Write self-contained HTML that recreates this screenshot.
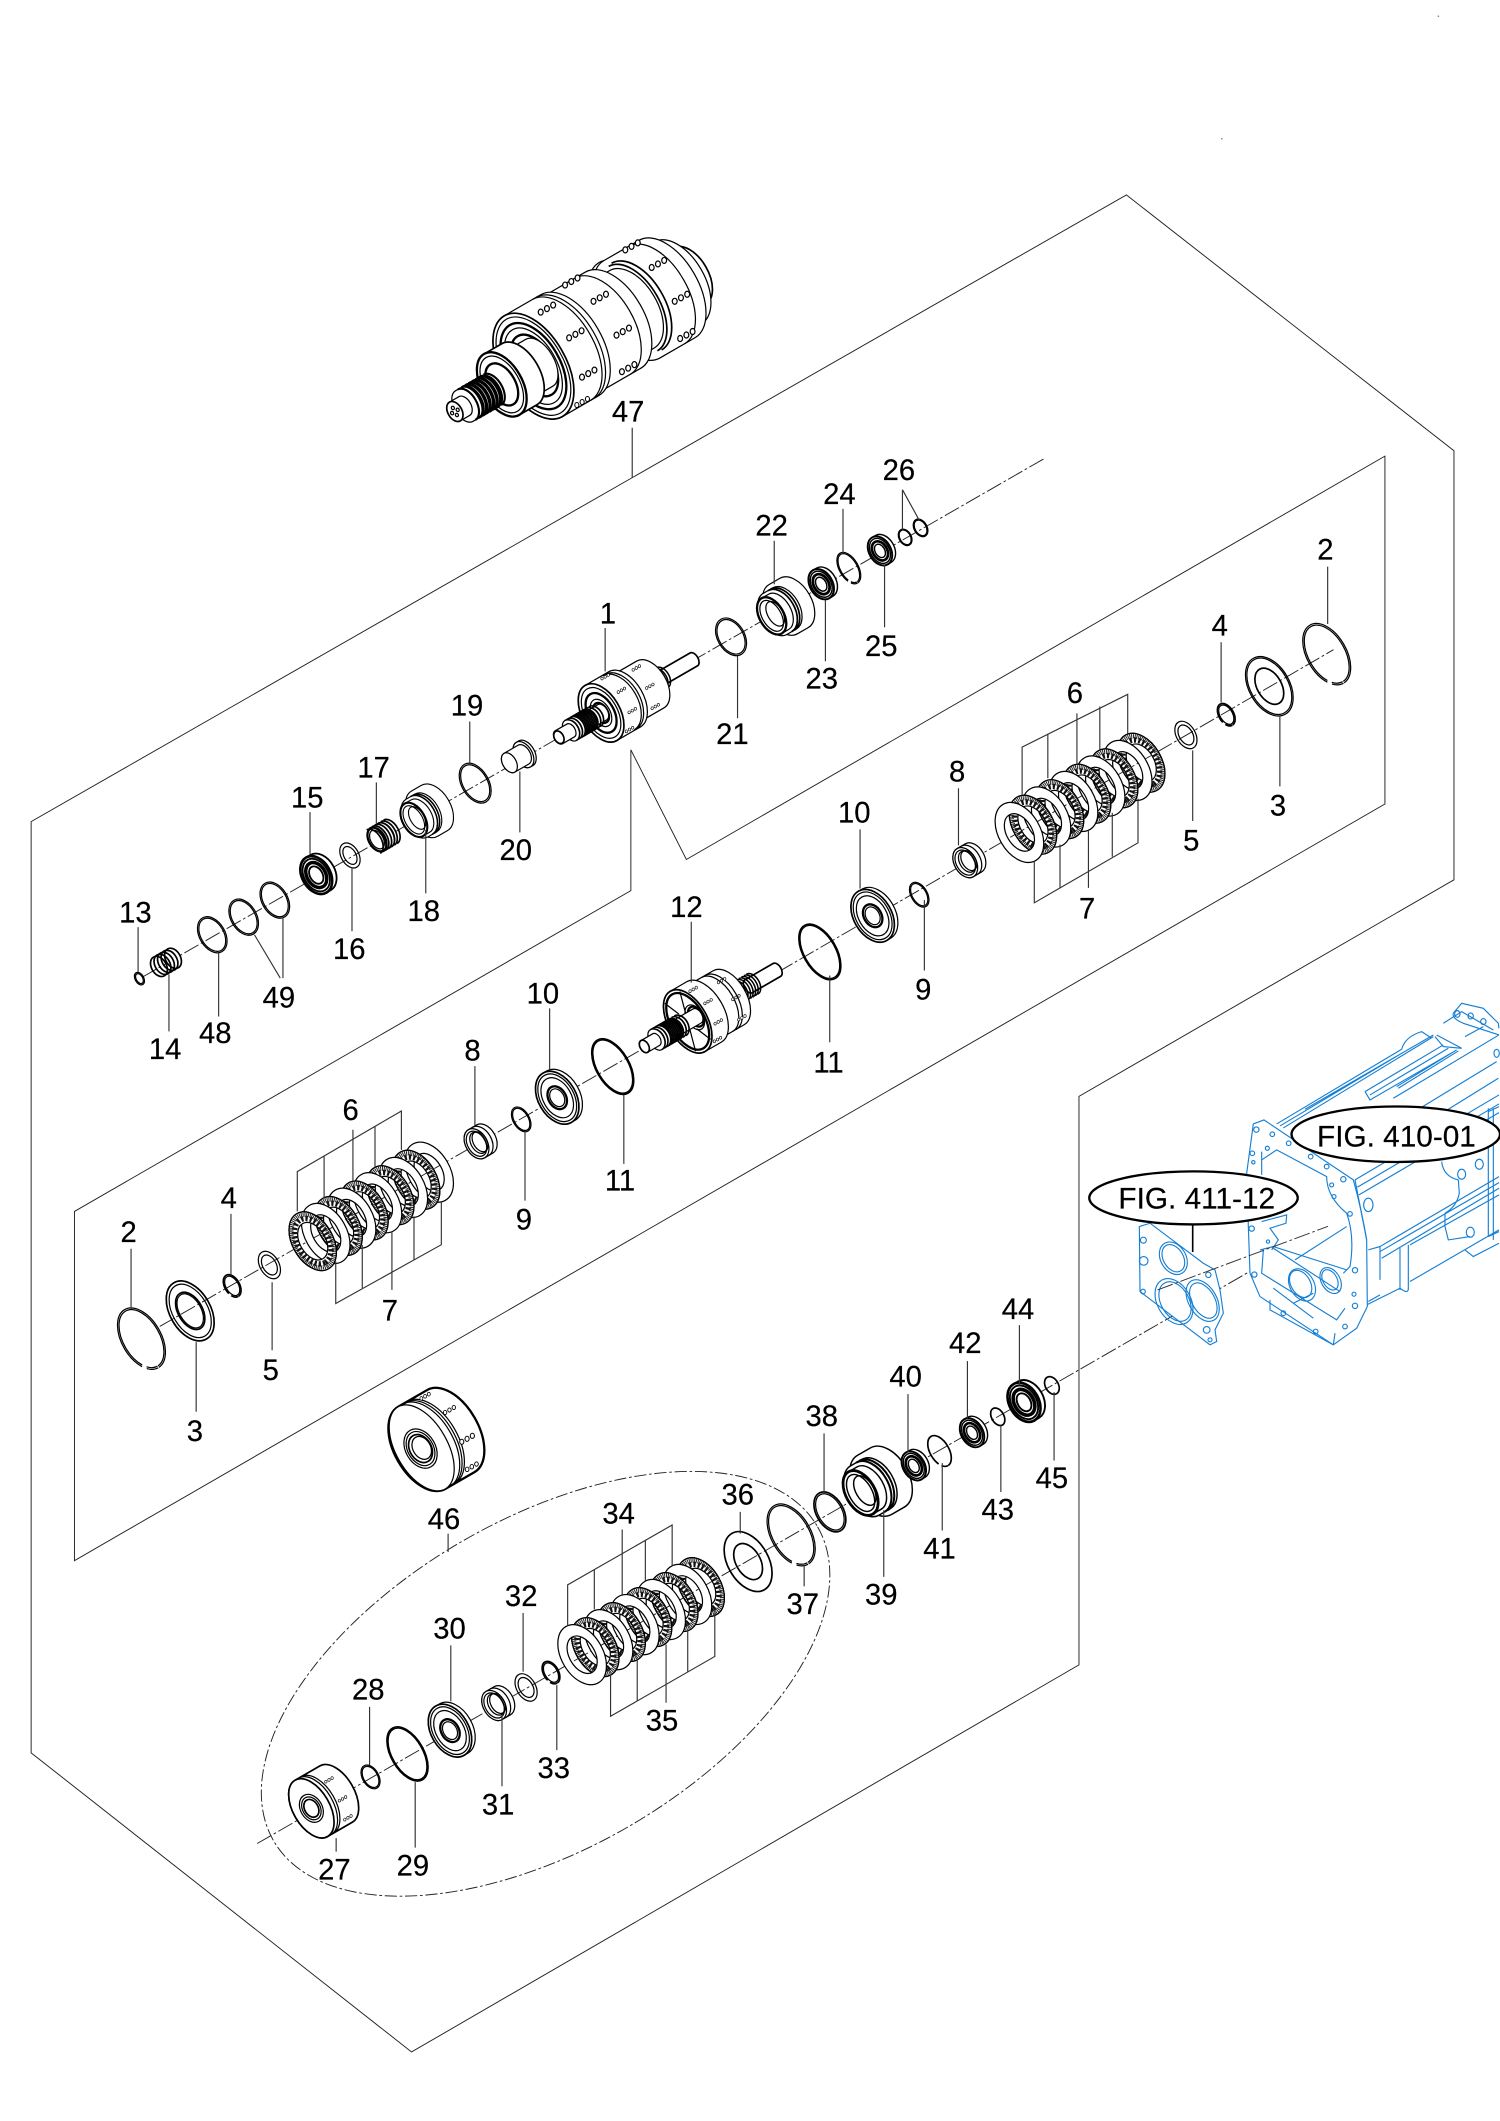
<!DOCTYPE html>
<html><head><meta charset="utf-8"><style>
html,body{margin:0;padding:0;background:#fff}
svg{display:block}
text{font-family:"Liberation Sans",sans-serif;font-size:21.6px;text-anchor:middle;fill:#000;stroke:#000;stroke-width:.15}
.box{fill:none;stroke:#222;stroke-width:.7}
.ch{fill:none;stroke:#222;stroke-width:.7;stroke-dasharray:12 2 2 2}
.ld{fill:none;stroke:#333;stroke-width:.85}
.p ellipse,.p path{stroke:#000;stroke-width:.9;fill:none}
.p .w{fill:#fff}
.p .k{stroke-width:1.7}
.p .t{stroke-width:1.25}
.bl *{fill:none;stroke:#157fd4;stroke-width:3.4}
.bl .w{fill:#fff}
</style></head><body>
<svg xmlns="http://www.w3.org/2000/svg" width="1500" height="2121" viewBox="0 0 1108 1567" preserveAspectRatio="none">
<defs><g class="p">
<g id="F" transform="rotate(60)">
<path class="w" fill-rule="evenodd" d="M-23.5,0A23.5,15 0 1 1 23.5,0A23.5,15 0 1 1 -23.5,0ZM-15,0A15,9.5 0 1 0 15,0A15,9.5 0 1 0 -15,0Z"/>
<ellipse rx="18.2" ry="11.6" style="stroke:#111;stroke-width:4;stroke-dasharray:1.7 1.5"/>
<ellipse rx="21.2" ry="13.5" style="stroke:#222;stroke-width:3.2;stroke-dasharray:.7 .6"/>
<ellipse rx="23.5" ry="15"/>
</g>
<g id="P" transform="rotate(60)">
<path class="w" fill-rule="evenodd" d="M-24,0A24,15.4 0 1 1 24,0A24,15.4 0 1 1 -24,0ZM-15,0A15,9.5 0 1 0 15,0A15,9.5 0 1 0 -15,0Z"/>
</g>
<g id="B">
<path class="w" d="M-10,0L-10,-2.5A10,7 0 0 1 10,-2.5L10,0A10,7 0 0 1 -10,0Z"/>
<ellipse class="t w" rx="10" ry="7"/><ellipse rx="8.6" ry="6"/><ellipse class="k" rx="6.6" ry="4.6"/><ellipse rx="4.6" ry="3.1"/>
</g>
<g id="S">
<path class="w" d="M-12,0L-12,-7A12,8 0 0 1 12,-7L12,0A12,8 0 0 1 -12,0Z"/>
<path d="M-12,-3.5A12,8 0 0 1 12,-3.5"/>
<ellipse class="w" rx="12" ry="8"/><ellipse rx="10" ry="6.6"/><ellipse rx="8.5" ry="5.4" cy="-1.5"/><ellipse rx="8" ry="5" cy="-3"/>
</g>
<g id="H">
<path class="w" d="M-21,-10L-21,-19A21,13 0 0 1 21,-19L21,-10A21,13 0 0 1 -21,-10Z"/>
<path class="w" d="M-17.5,-3L-17.5,-11A17.5,11 0 0 1 17.5,-11L17.5,-3A17.5,11 0 0 1 -17.5,-3Z"/>
<path class="t" d="M-17.5,-7A17.5,11 0 0 1 17.5,-7M-17.5,-9A17.5,11 0 0 1 17.5,-9"/>
<path class="w" d="M-15,0L-15,-6A15,9 0 0 1 15,-6L15,0A15,9 0 0 1 -15,0Z"/>
<ellipse class="k w" rx="15" ry="9"/><ellipse rx="12.5" ry="7"/><ellipse rx="10" ry="5.5" cy="-3"/>
</g>
<g id="h3"><ellipse class="w" cx="-4.6" cy="2.6" rx="1.8" ry="2.2"/><ellipse class="w" rx="1.8" ry="2.2"/><ellipse class="w" cx="4.6" cy="-2.6" rx="1.8" ry="2.2"/></g>
<path id="th" class="t" d="M-10,0a10,6 0 0 1 20,0m-20,-2.4a10,6 0 0 1 20,0m-20,-2.4a10,6 0 0 1 20,0m-20,-2.4a10,6 0 0 1 20,0m-20,-2.4a10,6 0 0 1 20,0m-20,-2.4a10,6 0 0 1 20,0m-20,-2.4a10,6 0 0 1 20,0"/>
</g></defs>

<!-- frames -->
<path class="box" d="M832,144L1074,333L1074,650L797,810L797,1230L304,1516L23,1295L23,607Z"/>
<path class="box" d="M1023,337L507,635L466,554L466,658L55,895L55,1153L1023,594Z"/>

<!-- axes -->
<path class="ch" d="M105,722L771,339"/>
<path class="ch" d="M118,980L478,773"/>
<path class="ch" d="M575,718L985,480"/>
<path class="ch" d="M190,1362L981,906"/>

<!-- BLUE housing -->
<g class="bl" transform="translate(783,724) scale(.2462)">
<path d="M650,432L1025,208M660,438L1025,220M670,444L1120,170M735,388L1120,165M1025,208Q1035,170 1085,155L1115,175"/>
<path d="M915,335L1150,195M915,335L930,360L1190,210M930,345L1165,205M1010,320L1190,210M1015,325L1195,213M1080,385L1310,245M1165,388L1315,295M1000,355L1317,165M885,600L1317,345M892,622L1317,372M897,645L1317,398"/>
<path d="M1125,170L1150,200L1205,205L1130,165M1150,130L1205,95L1300,150M1215,170L1270,140M1180,100L1205,70L1270,85L1315,130L1317,145M1180,100Q1175,115 1210,130L1317,165"/>
<ellipse cx="1192" cy="102" rx="8" ry="10"/><ellipse cx="1232" cy="108" rx="8" ry="9"/><ellipse cx="1270" cy="125" rx="8" ry="9"/><ellipse cx="1310" cy="220" rx="8" ry="12"/>
<path d="M960,800L1317,590M960,815L1317,608M965,835L1317,625M1050,795L1317,645M1050,905L1317,750M1020,805L1020,930M1045,795L1045,930M920,975L1020,925Q1045,945 1045,925M925,810L960,800L960,900M925,965L960,945"/>
<path d="M1285,385L1285,770M1300,385L1300,780M1317,380L1285,395M1215,810L1240,830L1317,790M1285,770L1317,755"/>
<path d="M1145,545Q1150,590 1195,600L1198,640Q1190,680 1155,700M1155,740L1165,780L1230,770M1155,700L1155,740"/>
<ellipse cx="1205" cy="583" rx="12" ry="15"/><ellipse cx="1258" cy="553" rx="12" ry="15"/><ellipse cx="1231" cy="757" rx="12" ry="15"/><ellipse cx="925" cy="675" rx="14" ry="20"/>
<path class="w" d="M580,432L612,420L880,600Q905,690 920,780L922,980L890,1045L820,1095L600,950L570,880L565,740L560,580Z"/>
<path d="M885,600L920,780M605,515L605,585M605,540L650,510L800,590Q800,650 860,700Q885,770 870,860L850,880M610,810L605,880L830,1020L855,985M640,805L840,935M600,810L640,800L860,870M705,840L860,740M640,925L760,1015M630,960L630,990L820,1095M700,970L760,940M825,1060L820,1095"/>
<path d="M605,725L680,705L678,730L630,745L655,780L635,810"/>
<ellipse cx="726" cy="915" rx="52" ry="36" transform="rotate(60 726 915)"/><ellipse cx="722" cy="912" rx="44" ry="29" transform="rotate(60 722 912)"/>
<ellipse cx="812" cy="902" rx="42" ry="28" transform="rotate(60 812 902)"/><ellipse cx="810" cy="900" rx="33" ry="21" transform="rotate(60 810 900)"/>
<circle cx="589" cy="449" r="8"/><circle cx="637" cy="463" r="7"/><circle cx="686" cy="490" r="7"/><circle cx="752" cy="530" r="7"/><circle cx="800" cy="560" r="7"/><circle cx="850" cy="598" r="8"/><circle cx="870" cy="702" r="7"/><circle cx="885" cy="871" r="8"/><circle cx="882" cy="943" r="6"/><circle cx="885" cy="978" r="8"/><circle cx="855" cy="1040" r="7"/><circle cx="767" cy="1055" r="7"/><circle cx="670" cy="1000" r="7"/><circle cx="583" cy="884" r="8"/><circle cx="577" cy="520" r="7"/><circle cx="580" cy="547" r="5"/><circle cx="575" cy="746" r="8"/><circle cx="622" cy="505" r="6"/><circle cx="815" cy="615" r="6"/><circle cx="822" cy="650" r="6"/><circle cx="624" cy="785" r="5"/>
<path class="w" d="M238,740L270,730L430,850L465,870L480,930L490,1000L465,1050L470,1085L450,1095L240,935Z"/>
<ellipse cx="340" cy="835" rx="52" ry="38" transform="rotate(60 340 835)"/><ellipse cx="340" cy="835" rx="44" ry="30" transform="rotate(60 340 835)"/>
<ellipse cx="342" cy="965" rx="74" ry="50" transform="rotate(60 342 965)"/><ellipse cx="345" cy="965" rx="64" ry="42" transform="rotate(60 345 965)"/>
<ellipse cx="428" cy="962" rx="68" ry="42" transform="rotate(60 428 962)"/><ellipse cx="430" cy="962" rx="58" ry="34" transform="rotate(60 430 962)"/>
<circle cx="250" cy="781" r="9"/><circle cx="251" cy="843" r="13"/><circle cx="249" cy="935" r="7"/><circle cx="445" cy="885" r="8"/><circle cx="440" cy="1050" r="10"/><circle cx="450" cy="1080" r="6"/>
</g>
<path class="ch" d="M855,953L981,906" style="stroke:#333"/>
<ellipse cx="1031" cy="838" rx="77" ry="20.5" fill="#fff" stroke="#000" stroke-width="1.7"/>
<ellipse cx="881.6" cy="885" rx="77" ry="19.6" fill="#fff" stroke="#000" stroke-width="1.7"/>
<path d="M881,905V925" stroke="#000" stroke-width="1.2"/>
<text x="1031.5" y="847" style="font-size:22px">FIG. 410-01</text>
<text x="884" y="893" style="font-size:22px">FIG. 411-12</text>

<!-- dashed group ellipse -->
<ellipse cx="403" cy="1244" rx="232" ry="122" transform="rotate(-30 403 1244)" fill="none" stroke="#222" stroke-width=".7" stroke-dasharray="9 2 2 2"/>

<!-- 47 assembly -->
<g class="p">
<g transform="translate(336,304) rotate(60)">
<path class="w t" d="M-24,-190L-24,-200A24,14 0 0 1 24,-200L24,-190A24,14 0 0 1 -24,-190Z"/>
<path class="w" d="M-35,-181L-35,-190A35,20 0 0 1 35,-190L35,-181A35,20 0 0 1 -35,-181Z"/>
<path class="w" d="M-41.5,-151L-41.5,-181A41.5,23 0 0 1 41.5,-181L41.5,-151A41.5,23 0 0 1 -41.5,-151Z"/>
<path d="M-41.5,-172A41.5,23 0 0 1 41.5,-172"/>
<path class="w" d="M-33,-135L-33,-151A33,19 0 0 1 33,-151L33,-135A33,19 0 0 1 -33,-135Z"/>
<path d="M-41.5,-151A41.5,23 0 0 0 -33,-133"/>
<path class="t" d="M-36,-152A36,20 0 0 1 36,-152M-37,-155A37,21 0 0 1 37,-155"/>
<path class="w" d="M-41,-98L-41,-135A41,23 0 0 1 41,-135L41,-98A41,23 0 0 1 -41,-98Z"/>
<path d="M-41,-126A41,23 0 0 1 41,-126"/>
<path class="w" d="M-43,-67L-43,-98A43,24 0 0 1 43,-98L43,-67A43,24 0 0 1 -43,-67Z"/>
<path d="M-43,-94A43,24 0 0 1 43,-94M-43,-91A43,24 0 0 1 43,-91"/>
<ellipse class="w t" cy="-67" rx="43" ry="24"/><ellipse cy="-67" rx="40" ry="22"/><ellipse class="k" cy="-67" rx="35" ry="19.5"/><ellipse cy="-67" rx="31" ry="17"/><ellipse class="k" cy="-68" rx="25" ry="14"/>
<path class="w" d="M-20,-55L-20,-72A20,11 0 0 1 20,-72L20,-55A20,11 0 0 1 -20,-55Z"/>
<path class="w t" d="M-26,-40L-26,-55A26,15 0 0 1 26,-55L26,-40A26,15 0 0 1 -26,-40Z"/>
<ellipse class="w k" cy="-40" rx="26" ry="15"/><ellipse cy="-40" rx="23" ry="13"/><ellipse class="k" cy="-40" rx="17" ry="10"/>
<path class="w" d="M-13,-8L-13,-30A13,7.5 0 0 1 13,-30L13,-8A13,7.5 0 0 1 -13,-8Z"/>
<use href="#th" transform="translate(0,-10) scale(1.3,1.25)"/>
<use href="#th" transform="translate(0,-14) scale(1.3,1.25)"/>
<path class="w" d="M-8,0L-8,-8A8,5 0 0 1 8,-8L8,0A8,5 0 0 1 -8,0Z"/>
<ellipse rx="8" ry="5.2" class="w t"/>
<ellipse cx="-3" rx="1.3" ry="1.1"/><ellipse cx="3" rx="1.3" ry="1.1"/><ellipse cy="-2.4" rx="1.3" ry="1.1"/><ellipse cy="2.4" rx="1.3" ry="1.1"/>
</g>
<use href="#h3" x="404" y="228"/><use href="#h3" x="425" y="247"/><use href="#h3" x="434.5" y="276"/>
<use href="#h3" x="422" y="208"/><use href="#h3" x="443" y="220"/><use href="#h3" x="460" y="245"/><use href="#h3" x="464" y="272"/>
<use href="#h3" x="466.5" y="182"/><use href="#h3" x="486" y="195"/><use href="#h3" x="503" y="220"/><use href="#h3" x="507" y="247.5"/>
<use href="#h3" transform="translate(430,297) scale(.85)"/>
</g>

<g class="p">
<!-- upper axis parts -->
<g transform="translate(103,723) rotate(60)"><ellipse rx="5" ry="3.2"/><ellipse rx="4" ry="2.4"/></g>
<g transform="translate(122.6,711) rotate(60)"><ellipse class="w t" cy="-6" rx="8" ry="5.5"/><ellipse class="t" cy="-3" rx="8" ry="5.5"/><ellipse class="t" cy="0" rx="8" ry="5.5"/><ellipse class="t" cy="3" rx="8" ry="5.5"/><ellipse class="t" cy="6" rx="8" ry="5.5"/></g>
<g transform="translate(156.8,690.6) rotate(60)"><ellipse rx="14.4" ry="9.5"/><ellipse rx="13.3" ry="8.5"/></g>
<g transform="translate(180,677.6) rotate(60)"><ellipse rx="14.4" ry="9.5"/><ellipse rx="13.3" ry="8.5"/></g>
<g transform="translate(203,665) rotate(60)"><ellipse rx="14.4" ry="9.5"/><ellipse rx="13.3" ry="8.5"/></g>
<g transform="translate(233.6,646.5) rotate(60) scale(1.5)"><use href="#B"/></g>
<g transform="translate(258.5,632) rotate(60)"><ellipse rx="10" ry="6.5"/><ellipse rx="7.2" ry="4.4"/></g>
<g transform="translate(281.5,618.5) rotate(60)"><path class="w" d="M-10,3L-10,-3A10,6.5 0 0 1 10,-3L10,3A10,6.5 0 0 1 -10,3Z"/><use href="#th" transform="translate(0,6.5) scale(1,1)"/><ellipse class="k" cy="3.5" rx="9.5" ry="6"/><ellipse cy="3.5" rx="7.5" ry="4.6"/></g>
<g transform="translate(305.7,605.7) rotate(60) scale(.92)"><use href="#H"/></g>
<g transform="translate(351,578.6) rotate(60)"><ellipse rx="16" ry="10"/><ellipse rx="14.8" ry="9"/></g>
<g transform="translate(380.6,561) rotate(60)">
<path class="w" d="M-10.5,-7L-10.5,-9A10.5,6.5 0 0 1 10.5,-9L10.5,-7A10.5,6.5 0 0 1 -10.5,-7Z"/>
<ellipse class="w" cy="-7" rx="10.5" ry="6.5"/>
<path class="w" d="M-8,5L-8,-7A8,5 0 0 1 8,-7L8,5A8,5 0 0 1 -8,5Z"/><ellipse class="w" cy="5" rx="8" ry="5"/>
</g>
<!-- part 1 -->
<g transform="translate(444,526.7) rotate(60)">
<path class="w t" d="M-5.5,-50L-5.5,-79A5.5,3.3 0 0 1 5.5,-79L5.5,-50A5.5,3.3 0 0 1 -5.5,-50Z"/>
<use href="#th" transform="translate(0,-39) scale(.85,.9)"/>
<path class="w" d="M-20,-20L-20,-42A20,12 0 0 1 20,-42L20,-20A20,12 0 0 1 -20,-20Z"/>
<path class="w" d="M-23.5,0L-23.5,-20A23.5,14 0 0 1 23.5,-20L23.5,0A23.5,14 0 0 1 -23.5,0Z"/>
<path d="M-23,-17A23,14 0 0 1 23,-17M-23,-15A23,14 0 0 1 23,-15"/>
<ellipse class="w t" rx="23.5" ry="14"/><ellipse rx="20.5" ry="12"/><ellipse class="k" rx="16" ry="9.5"/><ellipse rx="11" ry="6.6"/><ellipse class="k" rx="8" ry="5"/>
<path class="w" d="M-6.5,15L-6.5,-1A6.5,4 0 0 1 6.5,-1L6.5,15A6.5,4 0 0 1 -6.5,15Z"/>
<path class="w" d="M-8.5,26L-8.5,10A8.5,5 0 0 1 8.5,10L8.5,26A8.5,5 0 0 1 -8.5,26Z"/>
<use href="#th" transform="translate(0,26) scale(.85,1)"/>
<use href="#th" transform="translate(0,20) scale(.85,1)"/>
<path class="w" d="M-5.5,36L-5.5,26A5.5,3.4 0 0 1 5.5,26L5.5,36A5.5,3.4 0 0 1 -5.5,36Z"/>
<ellipse class="w t" cy="36" rx="5" ry="3.4"/>
</g>
<use href="#h3" transform="translate(447,500) scale(.5)"/><use href="#h3" transform="translate(459,510) scale(.5)"/><use href="#h3" transform="translate(467,525) scale(.5)"/><use href="#h3" transform="translate(465,539) scale(.5)"/>
<use href="#h3" transform="translate(470,493.5) scale(.5)"/><use href="#h3" transform="translate(480,507) scale(.5)"/><use href="#h3" transform="translate(484,522) scale(.5)"/>
<!-- right upper -->
<g transform="translate(540,470.5) rotate(60)"><ellipse rx="15" ry="10"/><ellipse rx="13.8" ry="9"/></g>
<g transform="translate(570,455) rotate(60)"><use href="#H"/></g>
<g transform="translate(606.6,431.6) rotate(60) scale(1.2)"><use href="#B"/></g>
<g transform="translate(627,419.7) rotate(60)"><ellipse rx="12.8" ry="7" pathLength="100" stroke-dasharray="8 4 88"/><ellipse rx="11.8" ry="6.2" pathLength="100" stroke-dasharray="8 4 88"/></g>
<g transform="translate(650,407) rotate(60) scale(1.15)"><use href="#B"/></g>
<g transform="translate(668.6,397) rotate(60)"><ellipse rx="6.5" ry="4.5"/><ellipse rx="5.8" ry="3.9"/></g>
<g transform="translate(680,390) rotate(60)"><ellipse rx="7" ry="4.8"/><ellipse rx="6.2" ry="4.1"/></g>
</g>

<!-- right pack -->
<g class="p">
<use href="#F" x="843" y="563.5"/><use href="#P" x="833" y="569.2"/><use href="#F" x="823" y="575"/><use href="#P" x="813" y="580.7"/><use href="#F" x="803" y="586.4"/><use href="#P" x="793" y="592.1"/><use href="#F" x="783" y="597.8"/><use href="#P" x="773" y="603.6"/><use href="#F" x="763" y="609.3"/><use href="#P" x="753" y="615"/>
<g transform="translate(980,483.3) rotate(60)"><ellipse rx="24.8" ry="14.6" pathLength="100" stroke-dasharray="7 3 90"/><ellipse rx="23.5" ry="13.5" pathLength="100" stroke-dasharray="7 3 90"/></g>
<g transform="translate(937.6,507) rotate(60)"><ellipse rx="23.8" ry="15"/><ellipse rx="22.6" ry="14"/><ellipse class="t" rx="14.5" ry="9"/></g>
<g transform="translate(905.8,528) rotate(60)"><ellipse class="t" rx="9" ry="5.5" pathLength="100" stroke-dasharray="12 5 83"/><ellipse rx="7.8" ry="4.6"/></g>
<g transform="translate(876,543) rotate(60)"><ellipse rx="11" ry="7"/><ellipse rx="8" ry="5"/></g>
<g transform="translate(713,637.3) rotate(60)"><use href="#S"/></g>
<g transform="translate(679,661) rotate(60)"><ellipse rx="10" ry="6"/><ellipse rx="9" ry="5.2"/></g>
<g transform="translate(644.6,676.6) rotate(60)">
<path class="w" d="M-21,0L-21,-3A21,14 0 0 1 21,-3L21,0A21,14 0 0 1 -21,0Z"/>
<ellipse class="w t" rx="21" ry="14"/><ellipse rx="19" ry="12.4"/><ellipse rx="16" ry="10.4"/>
<ellipse class="k" rx="9" ry="6.5"/><ellipse rx="7" ry="5"/>
</g>
<g transform="translate(605.6,703.3) rotate(60)"><ellipse class="t" rx="22.6" ry="12.2"/><ellipse rx="21.6" ry="11.4"/></g>
<!-- 12 right -->
<g transform="translate(508,754.6) rotate(60)">
<path class="w t" d="M-5.5,-52L-5.5,-76A5.5,3.3 0 0 1 5.5,-76L5.5,-52A5.5,3.3 0 0 1 -5.5,-52Z"/>
<use href="#th" transform="translate(0,-42) scale(.85,.9)"/>
<path class="w" d="M-23,-14L-23,-35A23,13 0 0 1 23,-35L23,-14A23,13 0 0 1 -23,-14Z"/>
<path d="M-23,-28A23,13 0 0 1 23,-28M-23,-25A23,13 0 0 1 23,-25"/>
<path class="w" d="M-25.7,0L-25.7,-14A25.7,14.4 0 0 1 25.7,-14L25.7,0A25.7,14.4 0 0 1 -25.7,0Z"/>
<ellipse class="w t" rx="25.7" ry="14.4"/><ellipse class="k" rx="23" ry="12.6"/>
<ellipse cy="-6" rx="10" ry="6"/><ellipse class="k" cy="-7" rx="8" ry="5"/>
<path d="M-22,-6L22,6M-20,8L-8,3M20,-8L8,-3"/>
<path class="w" d="M-6,20L-6,-8A6,3.6 0 0 1 6,-8L6,20A6,3.6 0 0 1 -6,20Z"/>
<path class="w" d="M-8.5,27L-8.5,12A8.5,5 0 0 1 8.5,12L8.5,27A8.5,5 0 0 1 -8.5,27Z"/>
<use href="#th" transform="translate(0,27) scale(.85,1)"/><use href="#th" transform="translate(0,21) scale(.85,1)"/>
<path class="w" d="M-5,37L-5,27A5,3.2 0 0 1 5,27L5,37A5,3.2 0 0 1 -5,37Z"/><ellipse class="w t" cy="37" rx="5" ry="3.2"/>
</g>
<use href="#h3" transform="translate(512,731) scale(.5)"/><use href="#h3" transform="translate(523,740) scale(.5)"/><use href="#h3" transform="translate(530.5,755) scale(.5)"/><use href="#h3" transform="translate(530,768) scale(.5)"/><use href="#h3" transform="translate(533,724.5) scale(.5)"/><use href="#h3" transform="translate(543.6,737) scale(.5)"/><use href="#h3" transform="translate(548,752) scale(.5)"/>

<!-- left pack -->
<use href="#P" x="317" y="866"/><use href="#F" x="307.4" y="871.6"/><use href="#P" x="297.9" y="877.3"/><use href="#F" x="288.3" y="883"/><use href="#P" x="278.8" y="888.6"/><use href="#F" x="269.2" y="894.3"/><use href="#P" x="259.7" y="900"/><use href="#F" x="250.1" y="905.7"/><use href="#P" x="240.6" y="911.3"/><use href="#F" x="231" y="917"/>
<g transform="translate(104.5,989) rotate(60)"><ellipse rx="24.8" ry="14.6" pathLength="100" stroke-dasharray="7 3 90"/><ellipse rx="23.5" ry="13.5" pathLength="100" stroke-dasharray="7 3 90"/></g>
<g transform="translate(140.5,968.5) rotate(60)"><ellipse class="t" rx="24" ry="15"/><ellipse rx="21.5" ry="13"/><ellipse class="t" rx="15" ry="9"/><ellipse rx="13.8" ry="8"/></g>
<g transform="translate(171.5,950) rotate(60)"><ellipse class="t" rx="9" ry="5.5" pathLength="100" stroke-dasharray="12 5 83"/><ellipse rx="7.8" ry="4.6"/></g>
<g transform="translate(199,934.6) rotate(60)"><ellipse rx="11" ry="7"/><ellipse rx="8" ry="5"/></g>
<g transform="translate(352,845) rotate(60)"><use href="#S"/></g>
<g transform="translate(385,827) rotate(60)"><ellipse rx="10" ry="6"/><ellipse rx="9" ry="5.2"/></g>
<g transform="translate(411.6,811) rotate(60)">
<path class="w" d="M-21,0L-21,-3A21,14 0 0 1 21,-3L21,0A21,14 0 0 1 -21,0Z"/>
<ellipse class="w t" rx="21" ry="14"/><ellipse rx="19" ry="12.4"/><ellipse rx="16" ry="10.4"/>
<ellipse class="k" rx="9" ry="6.5"/><ellipse rx="7" ry="5"/>
</g>
<g transform="translate(452.6,788) rotate(60)"><ellipse class="t" rx="22.6" ry="12.2"/><ellipse rx="21.6" ry="11.4"/></g>

<!-- 46 -->
<g transform="translate(311.5,1069.7) rotate(60)">
<path class="w k" d="M-35,0L-35,-25A35,20 0 0 1 35,-25L35,0A35,20 0 0 1 -35,0Z"/>
<path d="M-35,-4A35,20 0 0 1 35,-4M-35,-6A35,20 0 0 1 35,-6M-35,-8A35,20 0 0 1 35,-8"/>
<ellipse class="w" rx="35" ry="19"/><ellipse rx="15.5" ry="11" cy="1"/><ellipse rx="13.5" ry="9.5" cy="1"/><ellipse class="t" rx="11" ry="8" cy="1"/><ellipse rx="9" ry="6.5" cy="0"/>
</g>
<use href="#h3" transform="translate(332,1041.7) scale(.7)"/><use href="#h3" transform="translate(345,1063) scale(.85)"/><use href="#h3" transform="translate(348.5,1083.6) scale(.75)"/><use href="#h3" transform="translate(314,1031.6) scale(.6)"/>

<!-- bottom pack -->
<use href="#F" x="517.6" y="1172.5"/><use href="#P" x="507.8" y="1178"/><use href="#F" x="498.1" y="1183.6"/><use href="#P" x="488.4" y="1189.1"/><use href="#F" x="478.7" y="1194.7"/><use href="#P" x="468.9" y="1200.3"/><use href="#F" x="459.2" y="1205.8"/><use href="#P" x="449.5" y="1211.4"/><use href="#F" x="439.7" y="1216.9"/><use href="#P" x="430" y="1222.5"/>
<g transform="translate(552.6,1153.7) rotate(60)"><ellipse class="t" rx="24" ry="15"/><ellipse class="t" rx="14.5" ry="9"/></g>
<g transform="translate(584.4,1134) rotate(60)"><ellipse rx="25" ry="14.6" pathLength="100" stroke-dasharray="7 3 90"/><ellipse rx="23.8" ry="13.5" pathLength="100" stroke-dasharray="7 3 90"/></g>
<g transform="translate(613,1117) rotate(60)"><ellipse class="t" rx="16" ry="10"/><ellipse rx="14.6" ry="8.8"/></g>
<g transform="translate(635.7,1103) rotate(60) scale(1.2)"><use href="#H"/></g>
<g transform="translate(675,1083) rotate(60) scale(1.15)"><use href="#B"/></g>
<g transform="translate(694,1072) rotate(60)"><ellipse class="t" rx="12.5" ry="7" pathLength="100" stroke-dasharray="8 4 88"/></g>
<g transform="translate(718,1058.5) rotate(60) scale(1.15)"><use href="#B"/></g>
<g transform="translate(737,1046.7) rotate(60)"><ellipse class="t" rx="7" ry="4.5"/></g>
<g transform="translate(756.4,1036) rotate(60) scale(1.55)"><use href="#B"/></g>
<g transform="translate(777,1023.6) rotate(60)"><ellipse class="t" rx="7" ry="4.8"/></g>
<g transform="translate(407,1235.7) rotate(60)"><ellipse class="t" rx="9" ry="5.5" pathLength="100" stroke-dasharray="12 5 83"/><ellipse rx="7.8" ry="4.6"/></g>
<g transform="translate(388.6,1246.7) rotate(60)"><ellipse rx="11" ry="7"/><ellipse rx="8" ry="5"/></g>
<g transform="translate(365,1260) rotate(60)"><use href="#S"/></g>
<g transform="translate(332.4,1278.6) rotate(60)">
<path class="w" d="M-21,0L-21,-3A21,14 0 0 1 21,-3L21,0A21,14 0 0 1 -21,0Z"/>
<ellipse class="w t" rx="21" ry="14"/><ellipse rx="19" ry="12.4"/><ellipse rx="16" ry="10.4"/>
<ellipse class="k" rx="9" ry="6.5"/><ellipse rx="7" ry="5"/>
</g>
<g transform="translate(301,1295.8) rotate(60)"><ellipse class="t" rx="22" ry="12"/><ellipse rx="21" ry="11.2"/></g>
<g transform="translate(273.7,1312.8) rotate(60)"><ellipse rx="9.5" ry="6"/><ellipse rx="8.5" ry="5.2"/></g>
<g transform="translate(230,1336) rotate(60)">
<path class="w t" d="M-24,0L-24,-21A24,13.5 0 0 1 24,-21L24,0A24,13.5 0 0 1 -24,0Z"/>
<path d="M-24,-3A24,13.5 0 0 1 24,-3M-24,-5A24,13.5 0 0 1 24,-5"/>
<ellipse class="w t" rx="24" ry="13.5"/><ellipse rx="11" ry="8"/><ellipse rx="9" ry="6.5"/><ellipse class="t" rx="7" ry="5"/>
</g>
<use href="#h3" transform="translate(243,1315) scale(.5)"/><use href="#h3" transform="translate(253,1329) scale(.5)"/><use href="#h3" transform="translate(257,1343) scale(.5)"/>
</g>

<!-- leaders -->
<path class="ld" d="M467,316V353M447,464V496M347,533V565M278,578V609M229,600V631M384,570V615M314.5,613V660M260,641V688M102,685V718M124.8,720V762M161.5,704V751M209,678V722.6M188,690.7L207,722.6M510.6,681V726
M571.9,399.5V431.6M622.7,376V409M666.6,361.8V392M666.6,361.8L679,384.3M653.4,417V463.4M609.7,443.5V488.5M544.8,484.7V530.6M980.7,418.6V461M902,474.5V519M945.4,529V581M881,554.4V606.6M708,582.4V624.6M635.3,612.7V656.4M682.8,665V717M612.9,720.7V770
M755,587V552L833,513V542M774,575V542M795.5,527V565M812.4,522V554
M764,636V667L840.6,622.7V590M783,624V656M804,614V656M821.6,600.6V633
M406,745V790.8M350.8,787.7V831.6M387.8,836.4V887M460.8,808.6V859.9M96.8,922.6V967M144.9,991.6V1043M170.6,896.8V942M201,947.3V997.6
M219.6,895V865.6L296.5,820.8V849.5M239.4,885V854.4M260.7,834.7V873M277,832.4V862
M248,932V963L326,919.6V887.8M267.6,919.7V951.6M289.5,910V953M305.8,898.7V930.6
M331,1133V1146.6M546.8,1117V1133M594,1156.5V1172M386.4,1191.7V1235M333,1215.6V1257M273,1261V1304M411.3,1245V1293M370.8,1267V1319.7M248.3,1358V1368M306.7,1316.6V1365
M419.3,1201.6V1170.9L496.5,1126.7V1157M439,1189V1159.7M459.6,1130V1178M476.7,1137.6V1168
M451,1237V1268L528,1223.8V1191.6M470.7,1226V1257M492,1215V1258M508,1204V1235
M608.7,1059V1103M652.8,1115.8V1165M670.7,1030V1073M714.6,1005.6V1048M753,979V1023.5M696,1081V1130.7M739.3,1053V1102.3M778.6,1028.5V1079"/>

<!-- specks -->
<rect x="1062" y="11.5" width="1" height="1" fill="#777"/><rect x="902" y="102" width="1" height="1" fill="#777"/>

<!-- labels -->
<text x="464" y="311.5">47</text><text x="449" y="460.5">1</text><text x="570" y="395.5">22</text><text x="620" y="372.5">24</text><text x="664" y="354.5">26</text><text x="979" y="413.5">2</text><text x="901" y="469.5">4</text><text x="651" y="484.5">25</text><text x="607" y="508.5">23</text><text x="541" y="549.5">21</text><text x="345" y="528.5">19</text><text x="276" y="574.5">17</text><text x="227" y="596.5">15</text><text x="381" y="635.5">20</text><text x="313" y="680.5">18</text><text x="258" y="708.5">16</text><text x="100" y="681.5">13</text><text x="122" y="782.5">14</text><text x="159" y="770.5">48</text><text x="206" y="744.5">49</text><text x="507" y="677.5">12</text>
<text x="794" y="519.5">6</text><text x="707" y="577.5">8</text><text x="631" y="607.5">10</text><text x="944" y="602.5">3</text><text x="880" y="628.5">5</text><text x="803" y="678.5">7</text><text x="682" y="738.5">9</text><text x="612" y="792.5">11</text>
<text x="401" y="741.5">10</text><text x="349" y="783.5">8</text><text x="259" y="827.5">6</text><text x="458" y="879.5">11</text><text x="387" y="908.5">9</text><text x="169" y="892.5">4</text><text x="95" y="917.5">2</text><text x="288" y="975.5">7</text><text x="200" y="1019.5">5</text><text x="144" y="1064.5">3</text>
<text x="328" y="1129.5">46</text><text x="457" y="1125.5">34</text><text x="545" y="1111.5">36</text><text x="607" y="1053.5">38</text><text x="669" y="1024.5">40</text><text x="713" y="999.5">42</text><text x="752" y="974.5">44</text><text x="777" y="1099.5">45</text><text x="737" y="1122.5">43</text><text x="694" y="1151.5">41</text><text x="651" y="1185.5">39</text><text x="593" y="1192.5">37</text><text x="489" y="1278.5">35</text><text x="385" y="1186.5">32</text><text x="332" y="1210.5">30</text><text x="272" y="1255.5">28</text><text x="409" y="1313.5">33</text><text x="368" y="1340.5">31</text><text x="247" y="1388.5">27</text><text x="305" y="1385.5">29</text>
</svg>
</body></html>
